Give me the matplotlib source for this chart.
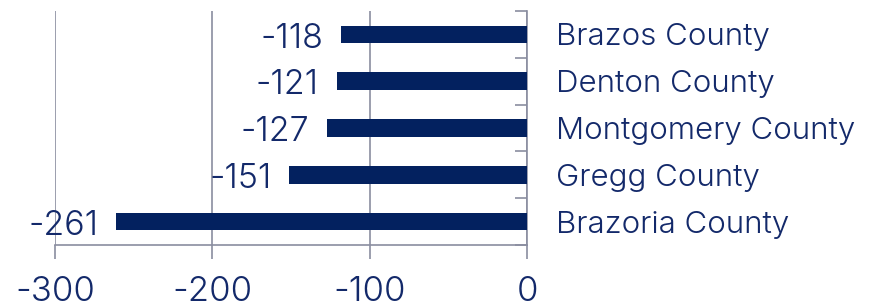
import matplotlib
matplotlib.use("Agg")
import matplotlib.pyplot as plt
from matplotlib.ticker import FixedLocator

categories = ["Brazos County", "Denton County", "Montgomery County", "Gregg County", "Brazoria County"]
values = [-118, -121, -127, -151, -261]
xticks = [-300, -200, -100, 0]

BAR = "#03215F"
TEXT = "#13296A"
GRID = "#8A8DA0"
FONT = ["Inter", "DejaVu Sans"]
W = 300

fig = plt.figure(figsize=(8.8, 3.07), dpi=100)
ax = fig.add_axes([0.0625, 0.202, 0.599 - 0.0625, 0.964 - 0.202])

n = len(categories)
ypos = list(range(n))
ax.barh(ypos, values, height=0.38, color=BAR, zorder=3)
ax.set_ylim(n - 0.5, -0.5)
ax.set_xlim(-300, 0)

ax.set_xticks(xticks)
ax.set_xticklabels([str(v) for v in xticks], fontsize=25, color=TEXT, family=FONT, fontweight=W)
ax.tick_params(axis="x", length=10, width=1.2, color=GRID, pad=12, direction="out")
ax.grid(axis="x", color=GRID, linewidth=1.2, zorder=0)

ax.yaxis.tick_right()
ax.set_yticks(ypos)
ax.set_yticklabels(categories, fontsize=22.5, color=TEXT, family=FONT, fontweight=W)
ax.yaxis.set_minor_locator(FixedLocator([i - 0.5 for i in range(n + 1)]))
ax.tick_params(axis="y", which="major", length=0, pad=21)
ax.tick_params(axis="y", which="minor", length=9, width=1.2, color=GRID, direction="in", right=True, left=False)

for s in ["top", "left"]:
    ax.spines[s].set_visible(False)
for s in ["bottom", "right"]:
    ax.spines[s].set_color(GRID)
    ax.spines[s].set_linewidth(1.2)

for y, v in zip(ypos, values):
    ax.annotate(str(v), xy=(v, y), xytext=(-13, -3), textcoords="offset points",
                ha="right", va="center", fontsize=24.5, color=TEXT, family=FONT,
                fontweight=W, zorder=4)

fig.savefig("out.png", dpi=100)
